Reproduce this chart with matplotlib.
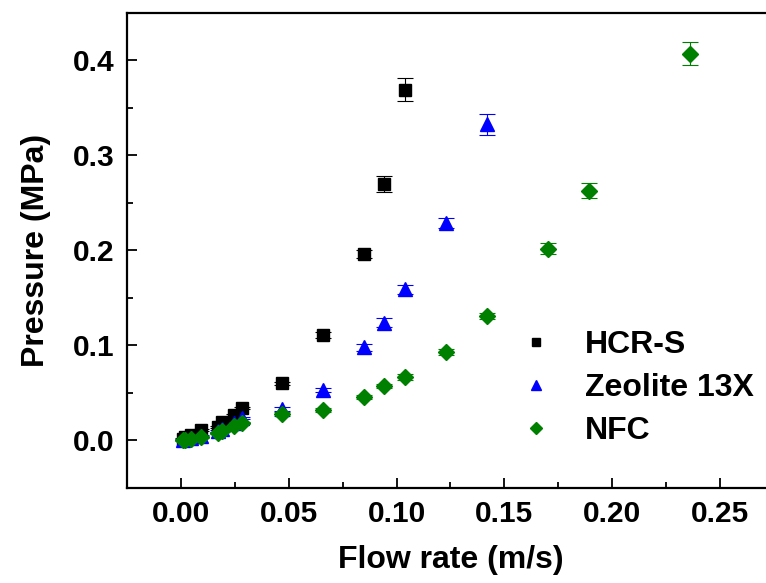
import matplotlib
matplotlib.use("Agg")
import matplotlib.pyplot as plt
from matplotlib.ticker import MultipleLocator

plt.rcParams['font.family'] = ['Liberation Sans', 'DejaVu Sans']
plt.rcParams['font.weight'] = 'bold'

# Data
hcr_x = [0.0009, 0.0019, 0.0047, 0.0094, 0.0170, 0.0189, 0.0245, 0.0283,
         0.047, 0.066, 0.085, 0.094, 0.104]
hcr_y = [0.002, 0.004, 0.006, 0.011, 0.014, 0.019, 0.027, 0.034,
         0.060, 0.111, 0.196, 0.270, 0.369]
hcr_e = [0.001, 0.001, 0.001, 0.001, 0.001, 0.001, 0.001, 0.001,
         0.002, 0.003, 0.004, 0.008, 0.012]

zeo_x = [0.0009, 0.0019, 0.0047, 0.0094, 0.0170, 0.0189, 0.0245, 0.0283,
         0.047, 0.066, 0.085, 0.094, 0.104, 0.123, 0.142]
zeo_y = [0.001, 0.002, 0.003, 0.005, 0.010, 0.012, 0.018, 0.024,
         0.033, 0.053, 0.098, 0.124, 0.159, 0.229, 0.333]
zeo_e = [0.001, 0.001, 0.001, 0.001, 0.001, 0.001, 0.001, 0.001,
         0.002, 0.002, 0.004, 0.005, 0.005, 0.005, 0.011]

nfc_x = [0.0009, 0.0019, 0.0047, 0.0094, 0.0170, 0.0189, 0.0245, 0.0283,
         0.047, 0.066, 0.085, 0.094, 0.104, 0.123, 0.142, 0.170, 0.189, 0.236]
nfc_y = [0.000, 0.001, 0.002, 0.004, 0.008, 0.010, 0.015, 0.018,
         0.028, 0.032, 0.046, 0.057, 0.067, 0.093, 0.131, 0.202, 0.263, 0.407]
nfc_e = [0.001, 0.001, 0.001, 0.001, 0.001, 0.001, 0.001, 0.001,
         0.002, 0.002, 0.002, 0.002, 0.003, 0.003, 0.003, 0.006, 0.008, 0.012]

series = [
    ("HCR-S", hcr_x, hcr_y, hcr_e, "s", "black", 9),
    ("Zeolite 13X", zeo_x, zeo_y, zeo_e, "^", "blue", 10),
    ("NFC", nfc_x, nfc_y, nfc_e, "D", "green", 8.5),
]

fig = plt.figure(figsize=(7.66, 5.83), dpi=100)
ax = fig.add_axes([0.1658, 0.1630, 0.8446, 0.8148])

for name, x, y, e, m, c, ms in series:
    ax.errorbar(x, y, yerr=e, fmt=m, color=c, ms=ms, ecolor=c, elinewidth=0.8,
                capsize=6, capthick=0.8, label=name, mec=c, mfc=c)

ax.set_xlim(-0.025, 0.275)
ax.set_ylim(-0.05, 0.45)
ax.xaxis.set_major_locator(MultipleLocator(0.05))
ax.xaxis.set_minor_locator(MultipleLocator(0.025))
ax.yaxis.set_major_locator(MultipleLocator(0.1))
ax.yaxis.set_minor_locator(MultipleLocator(0.05))
ax.xaxis.set_major_formatter(plt.FuncFormatter(lambda v, p: f"{v:.2f}"))
ax.yaxis.set_major_formatter(plt.FuncFormatter(lambda v, p: f"{v:.1f}"))

ax.spines['right'].set_visible(False)
for s in ['left', 'bottom', 'top']:
    ax.spines[s].set_linewidth(1.6)
ax.tick_params(which='both', direction='in', width=1.3, labelsize=21.5, top=False, right=False)
ax.tick_params(which='major', length=7, pad=9)
ax.tick_params(which='minor', length=4)
for lab in ax.get_xticklabels() + ax.get_yticklabels():
    lab.set_fontweight('bold')

ax.set_xlabel("Flow rate (m/s)", fontsize=23, fontweight='bold', labelpad=12)
ax.set_ylabel("Pressure (MPa)", fontsize=23, fontweight='bold', labelpad=16)

handles, labels = ax.get_legend_handles_labels()
handles = [h[0] for h in handles]
leg = ax.legend(handles, labels, loc='center left', bbox_to_anchor=(0.555, 0.21),
                frameon=False, fontsize=23, markerscale=0.7, handletextpad=0.9,
                labelspacing=0.4, handlelength=1.3)
for t in leg.get_texts():
    t.set_fontweight('bold')

fig.savefig("out.png", dpi=100)
